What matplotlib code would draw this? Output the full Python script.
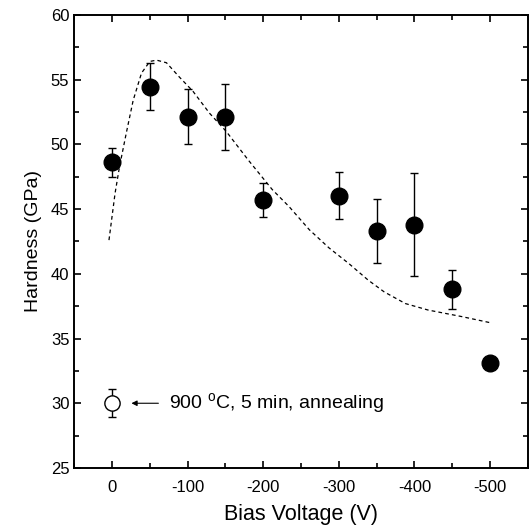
import matplotlib
matplotlib.use('Agg')
import matplotlib.pyplot as plt
from matplotlib.ticker import MultipleLocator

plt.rcParams['font.family'] = ['Liberation Sans', 'DejaVu Sans']
plt.rcParams['mathtext.fontset'] = 'custom'
plt.rcParams['mathtext.rm'] = 'Liberation Sans'
plt.rcParams['axes.unicode_minus'] = False

# measured hardness vs bias voltage
bias = [0, -50, -100, -150, -200, -300, -350, -400, -450, -500]
hardness = [48.6, 54.4, 52.1, 52.1, 45.7, 46.0, 43.3, 43.8, 38.8, 33.1]
err_lo = [1.1, 1.75, 2.1, 2.55, 1.3, 1.75, 2.45, 4.0, 1.55, 0.0]
err_hi = [1.15, 1.85, 2.15, 2.55, 1.3, 1.85, 2.45, 4.0, 1.5, 0.0]

# annealed sample
ann_bias = [0]
ann_hard = [30.0]
ann_err = [1.1]

# dashed guide curve
curve_v = [4, -4, -10, -19, -28, -39, -50, -59, -72, -89, -107, -129, -151,
           -180, -212, -234, -261, -287, -313, -339, -360, -388, -418, -462,
           -502]
curve_h = [42.6, 46.2, 48.3, 50.9, 53.4, 55.5, 56.4, 56.5, 56.3, 55.2, 54.1,
           52.4, 51.0, 48.8, 46.5, 45.2, 43.4, 42.0, 40.8, 39.5, 38.6, 37.7,
           37.2, 36.7, 36.2]

fig = plt.figure(figsize=(5.3, 5.3), dpi=100)
ax = fig.add_axes([0.14, 0.117, 0.856, 0.855])

ax.plot(curve_v, curve_h, color='black', lw=0.9, linestyle=(0, (3, 2.5)))

ax.errorbar(bias, hardness, yerr=[err_lo, err_hi], fmt='o', color='black',
            ms=12, elinewidth=1.0, capsize=3, capthick=1.0, zorder=3)
ax.errorbar(ann_bias, ann_hard, yerr=ann_err, fmt='o', mfc='white', mec='black',
            ecolor='black', mew=1.0, ms=11, elinewidth=1.0, capsize=3,
            capthick=1.0, zorder=3)

ax.annotate('', xy=(-22, 30.0), xytext=(-65, 30.0),
            arrowprops=dict(arrowstyle='-|>', color='black', lw=0.8,
                            mutation_scale=8))
ax.text(-76, 30.0, '900 $^{\\rm o}$C, 5 min, annealing', fontsize=14,
        va='center', ha='left')

ax.set_xlim(50, -550)
ax.set_ylim(25, 60)
ax.set_xticks([0, -100, -200, -300, -400, -500])
ax.xaxis.set_minor_locator(MultipleLocator(50))
ax.yaxis.set_major_locator(MultipleLocator(5))
ax.yaxis.set_minor_locator(MultipleLocator(2.5))

ax.tick_params(which='both', direction='in', top=True, right=True,
               labelsize=12, width=1.2)
ax.tick_params(which='major', length=5)
ax.tick_params(which='minor', length=3.5)
ax.tick_params(axis='x', pad=9)
for s in ax.spines.values():
    s.set_linewidth(1.4)

ax.set_xlabel('Bias Voltage (V)', fontsize=15.5, labelpad=6)
ax.set_ylabel('Hardness (GPa)', fontsize=14, labelpad=6)

fig.savefig('out.png', dpi=100)
